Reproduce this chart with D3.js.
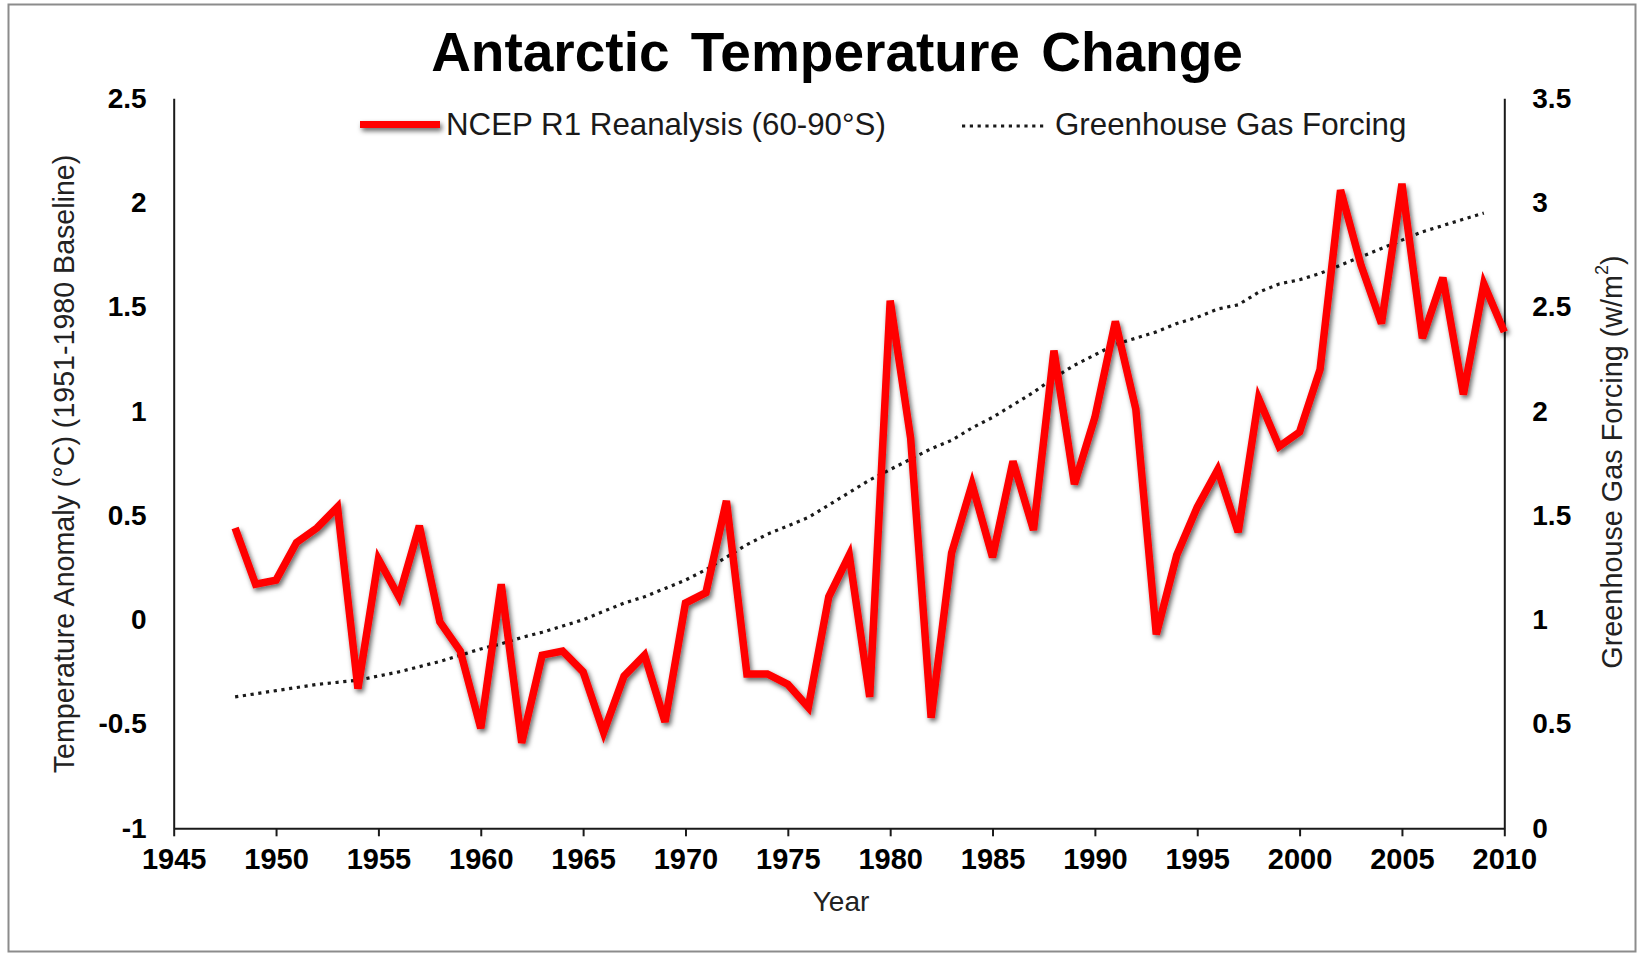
<!DOCTYPE html>
<html>
<head>
<meta charset="utf-8">
<script src="https://cdn.jsdelivr.net/npm/d3@7"></script>
<style>
  html, body { margin: 0; padding: 0; background: #fff; }
  svg { display: block; }
</style>
</head>
<body>
<div id="chart"></div>
<script>
// data
const years = d3.range(1948, 2011);
const tempAnomaly = [
  0.44, 0.17, 0.19, 0.37, 0.44, 0.54, -0.33, 0.29, 0.11, 0.45,
  -0.01, -0.15, -0.52, 0.17, -0.59, -0.17, -0.15, -0.25, -0.54, -0.27,
  -0.17, -0.49, 0.08, 0.13, 0.57, -0.26, -0.26, -0.31, -0.42, 0.11,
  0.31, -0.37, 1.53, 0.87, -0.47, 0.32, 0.65, 0.30, 0.76, 0.43,
  1.29, 0.65, 0.97, 1.43, 1.01, -0.07, 0.31, 0.54, 0.72, 0.42,
  1.06, 0.83, 0.90, 1.20, 2.06, 1.70, 1.42, 2.09, 1.35, 1.64,
  1.08, 1.61, 1.38
];
const ghgYears = d3.range(1948, 2010);
const ghgForcing = [
  0.63, 0.645, 0.66, 0.675, 0.69, 0.70, 0.71, 0.73, 0.75, 0.775,
  0.80, 0.83, 0.86, 0.885, 0.915, 0.94, 0.97, 1.00, 1.04, 1.08,
  1.11, 1.15, 1.19, 1.24, 1.30, 1.36, 1.41, 1.45, 1.49, 1.55,
  1.61, 1.67, 1.72, 1.77, 1.82, 1.86, 1.92, 1.97, 2.03, 2.09,
  2.16, 2.22, 2.27, 2.32, 2.35, 2.38, 2.42, 2.45, 2.49, 2.51,
  2.57, 2.61, 2.63, 2.66, 2.70, 2.74, 2.78, 2.82, 2.86, 2.89,
  2.92, 2.95
];
const xTicks = d3.range(1945, 2011, 5);
const leftTicks = [-1, -0.5, 0, 0.5, 1, 1.5, 2, 2.5];
const rightTicks = [0, 0.5, 1, 1.5, 2, 2.5, 3, 3.5];
const seriesNames = ["NCEP R1 Reanalysis (60-90°S)", "Greenhouse Gas Forcing"];

const width = 1644, height = 954;
const font = "'Liberation Sans', Arial, sans-serif";

const svg = d3.select("#chart").append("svg")
  .attr("width", width).attr("height", height);

// soft shadow under the red line (user space so the flat legend line works too)
const defs = svg.append("defs");
const shadow = defs.append("filter").attr("id", "shadow")
  .attr("filterUnits", "userSpaceOnUse")
  .attr("x", 0).attr("y", 0).attr("width", width).attr("height", height);
shadow.append("feDropShadow")
  .attr("dx", 2).attr("dy", 3).attr("stdDeviation", 2.4)
  .attr("flood-color", "#000").attr("flood-opacity", 0.6);

// outer frame
svg.append("rect")
  .attr("x", 8.5).attr("y", 4.5).attr("width", 1627).attr("height", 947)
  .attr("fill", "#fff").attr("stroke", "#8c8c8c").attr("stroke-width", 2);

const x = d3.scaleLinear().domain([1945, 2010]).range([173.7, 1504.3]);
const yL = d3.scaleLinear().domain([-1, 2.5]).range([828.3, 98.3]);
const yR = d3.scaleLinear().domain([0, 3.5]).range([828.3, 98.3]);

// axes
const gx = svg.append("g").attr("transform", `translate(0,${yL.range()[0]})`)
  .call(d3.axisBottom(x).tickValues(xTicks).tickSize(8).tickSizeOuter(0)
    .tickPadding(12).tickFormat(d3.format("d")));
const gl = svg.append("g").attr("transform", `translate(${x.range()[0]},0)`)
  .call(d3.axisLeft(yL).tickValues(leftTicks).tickSize(0).tickSizeOuter(0)
    .tickPadding(27).tickFormat(d => String(d)));
const gr = svg.append("g").attr("transform", `translate(${x.range()[1]},0)`)
  .call(d3.axisRight(yR).tickValues(rightTicks).tickSize(0).tickSizeOuter(0)
    .tickPadding(28).tickFormat(d => String(d)));

[gx, gl, gr].forEach(g => {
  g.attr("font-family", font).attr("font-size", 28).attr("font-weight", "bold");
  g.select(".domain").attr("stroke", "#1a1a1a").attr("stroke-width", 2);
  g.selectAll(".tick line").attr("stroke", "#1a1a1a").attr("stroke-width", 2);
  g.selectAll(".tick text").attr("fill", "#000");
});
gx.selectAll(".tick text").attr("font-size", 29);

// lines
const ghgLine = d3.line().x((d, i) => x(ghgYears[i])).y(d => yR(d));
svg.append("path").datum(ghgForcing)
  .attr("d", ghgLine)
  .attr("fill", "none").attr("stroke", "#1a1a1a").attr("stroke-width", 3.2)
  .attr("stroke-dasharray", "3.2 4.6");

const tempLine = d3.line().x((d, i) => x(years[i])).y(d => yL(d));
svg.append("path").datum(tempAnomaly)
  .attr("d", tempLine)
  .attr("fill", "none").attr("stroke", "#ff0000").attr("stroke-width", 7.5)
  .attr("stroke-linejoin", "miter").attr("filter", "url(#shadow)");

// title
svg.append("text")
  .attr("x", 837).attr("y", 71)
  .attr("text-anchor", "middle")
  .attr("font-family", font).attr("font-size", 55).attr("font-weight", "bold")
  .attr("word-spacing", 6)
  .attr("fill", "#000")
  .text("Antarctic Temperature Change");

// legend
const legend = svg.append("g").attr("font-family", font).attr("font-size", 31.3).attr("fill", "#1a1a1a");
legend.append("line").attr("x1", 360).attr("x2", 440).attr("y1", 124.5).attr("y2", 124.5)
  .attr("stroke", "#ff0000").attr("stroke-width", 7).attr("filter", "url(#shadow)");
legend.append("text").attr("x", 446).attr("y", 124).attr("dominant-baseline", "central")
  .text(seriesNames[0]);
legend.append("line").attr("x1", 962).attr("x2", 1044).attr("y1", 126).attr("y2", 126)
  .attr("stroke", "#1a1a1a").attr("stroke-width", 3.2).attr("stroke-dasharray", "3.2 4.6");
legend.append("text").attr("x", 1055).attr("y", 124).attr("dominant-baseline", "central")
  .text(seriesNames[1]);

// axis titles
svg.append("text")
  .attr("transform", "translate(64,464) rotate(-90)")
  .attr("text-anchor", "middle").attr("dominant-baseline", "central")
  .attr("font-family", font).attr("font-size", 28.6).attr("fill", "#222")
  .text("Temperature Anomaly (°C) (1951-1980 Baseline)");

const rt = svg.append("text")
  .attr("transform", "translate(1612,462) rotate(-90)")
  .attr("text-anchor", "middle").attr("dominant-baseline", "central")
  .attr("font-family", font).attr("font-size", 28.8).attr("fill", "#222");
rt.append("tspan").text("Greenhouse Gas Forcing (w/m");
rt.append("tspan").attr("font-size", 18).attr("dy", -10).text("2");
rt.append("tspan").attr("dy", 10).text(")");

svg.append("text")
  .attr("x", 841).attr("y", 911)
  .attr("text-anchor", "middle")
  .attr("font-family", font).attr("font-size", 28).attr("fill", "#222")
  .text("Year");
</script>
</body>
</html>
